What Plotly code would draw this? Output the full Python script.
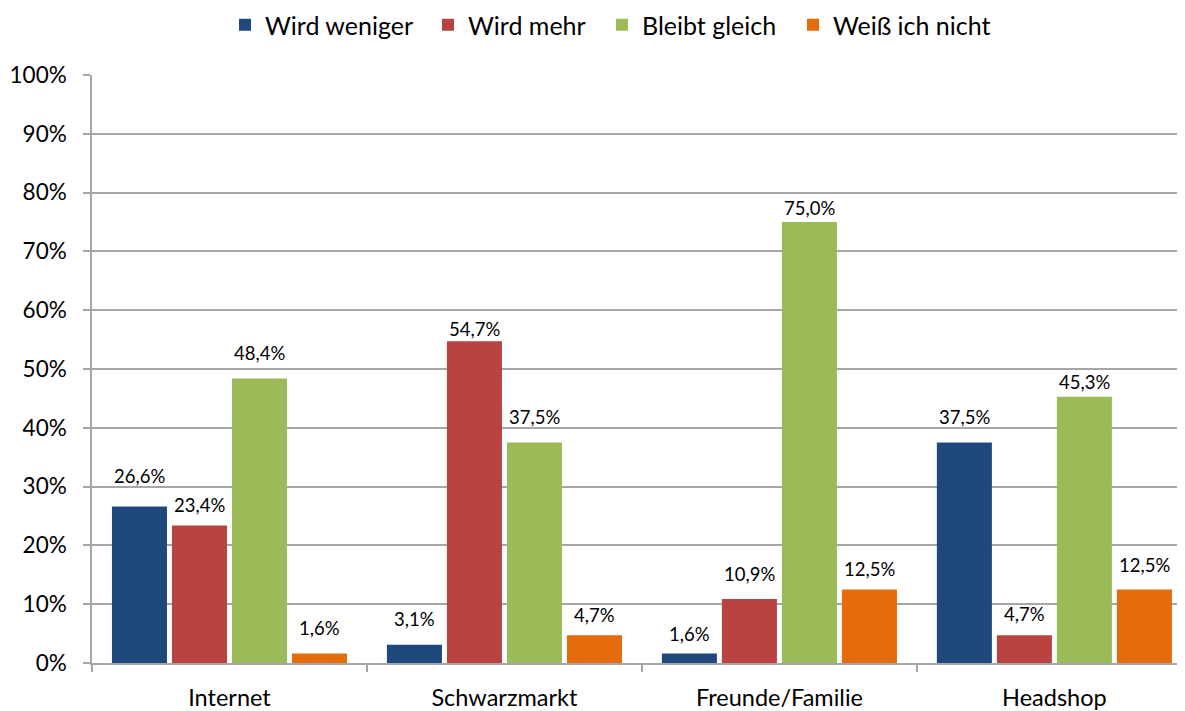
import plotly.graph_objects as go

categories = ["Internet", "Schwarzmarkt", "Freunde/Familie", "Headshop"]
series_names = ["Wird weniger", "Wird mehr", "Bleibt gleich", "Weiß ich nicht"]
wird_weniger = [26.6, 3.1, 1.6, 37.5]
wird_mehr = [23.4, 54.7, 10.9, 4.7]
bleibt_gleich = [48.4, 37.5, 75.0, 45.3]
weiss_nicht = [1.6, 4.7, 12.5, 12.5]
y_ticks = list(range(0, 101, 10))

# styles
colors = ["#1F497D", "#B84340", "#9BBB59", "#E46C0A"]
# label gap (px) between bar top and label baseline, as placed in the original
label_gaps = [[23, 18, 12, 18], [12, 4, 17, 13], [17, 18, 6, 7], [18, 12, 13, 17]]
legend_square_centers = [245, 448, 622, 813]  # px in page

PAGE_OFF = 8  # default body margin of the html page
W, H = 1185 - PAGE_OFF, 711 - PAGE_OFF
FONT = "Lato, Noto Sans, sans-serif"
BARGAP = 0.127
BARGROUPGAP = 0.083
LABEL_SIZE = 18.5
BASE_DESC = 5  # distance from annotation box bottom to text baseline

all_series = [wird_weniger, wird_mehr, bleibt_gleich, weiss_nicht]
fig = go.Figure()
legend_ids = ["legend", "legend2", "legend3", "legend4"]
for name, vals, col, lid in zip(series_names, all_series, colors, legend_ids):
    fig.add_trace(go.Bar(
        name=name, x=categories, y=vals, legend=lid, showlegend=True,
        marker=dict(color=col, line=dict(width=0)),
    ))

slot = (1 - BARGAP) / len(all_series)
annotations = []
for j, vals in enumerate(all_series):
    off = (j - (len(all_series) - 1) / 2) * slot
    for i, v in enumerate(vals):
        annotations.append(dict(
            x=i + off, y=v, xref="x", yref="y",
            text=f"{v:.1f}%".replace(".", ","), showarrow=False,
            xanchor="center", yanchor="bottom",
            yshift=label_gaps[j][i] - BASE_DESC,
            font=dict(size=LABEL_SIZE, family=FONT, color="#000000"),
        ))

layout_legends = {}
for lid, cx in zip(legend_ids, legend_square_centers):
    layout_legends[lid] = dict(
        orientation="h", xref="container", yref="container",
        x=(cx - PAGE_OFF - 20) / W, xanchor="left",
        y=1 - 17 / H, yanchor="middle",
        font=dict(size=25, family=FONT, color="#000000"),
        itemwidth=30, bgcolor="rgba(0,0,0,0)", borderwidth=0,
    )

fig.update_layout(
    width=W, height=H, showlegend=True,
    margin=dict(l=92 - PAGE_OFF, r=0, t=75 - PAGE_OFF, b=H - (663 - PAGE_OFF)),
    paper_bgcolor="white", plot_bgcolor="white",
    barmode="group", bargap=BARGAP, bargroupgap=BARGROUPGAP,
    font=dict(family=FONT, color="#000000"),
    annotations=annotations,
    xaxis=dict(range=[-0.5, 3.475], showline=True, linecolor="#A6A6A6", linewidth=1.5,
               ticks="outside", tickson="boundaries", ticklen=7, tickcolor="#A6A6A6",
               tickwidth=1.5, ticklabelstandoff=13, automargin=False,
               tickfont=dict(size=23.5, family=FONT), showgrid=False),
    yaxis=dict(range=[0, 100], tickvals=y_ticks, ticktext=[f"{t}%" for t in y_ticks],
               showline=True, linecolor="#A6A6A6", linewidth=1.5,
               ticks="outside", ticklen=7, tickcolor="#A6A6A6", tickwidth=1.5,
               ticklabelstandoff=12, automargin=False,
               gridcolor="#A6A6A6", gridwidth=1.5, zeroline=False,
               tickfont=dict(size=22.5, family=FONT)),
    **layout_legends,
)
fig.write_html("out.html")
